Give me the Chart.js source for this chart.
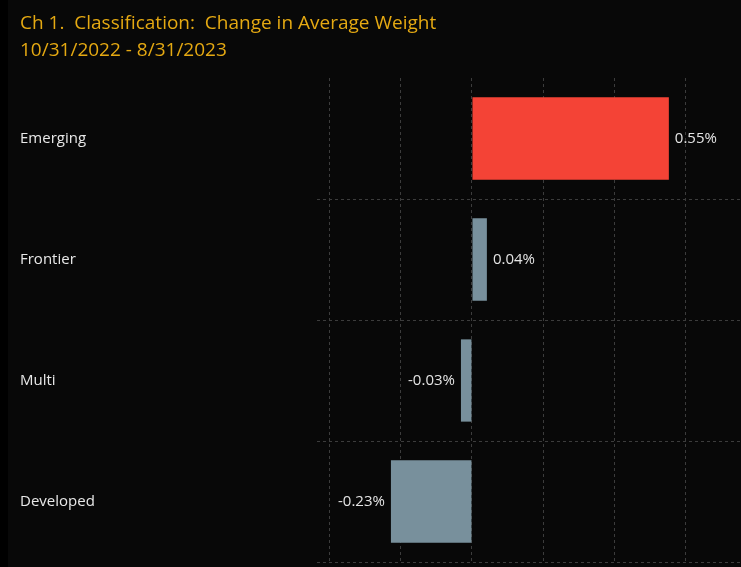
<!DOCTYPE html>
<html>
<head>
<meta charset="utf-8">
<script src="https://cdn.jsdelivr.net/npm/chart.js@4"></script>
<style>
  html, body { margin: 0; padding: 0; }
  body {
    width: 741px;
    height: 567px;
    overflow: hidden;
    background: linear-gradient(to right, #000 8px, #080808 8px);
  }
  #wrap { position: relative; width: 741px; height: 567px; }
</style>
</head>
<body>
<div id="wrap"><canvas id="chart"></canvas></div>
<script>
const categories = ["Emerging", "Frontier", "Multi", "Developed"];
const changeValues = [0.554, 0.042, -0.031, -0.228];
const barColors = ["#f44336", "#78909c", "#78909c", "#78909c"];
const gridTicks = [-0.4, -0.2, 0, 0.2, 0.4, 0.6];
const titleLines = ["Ch 1.  Classification:  Change in Average Weight", "10/31/2022 - 8/31/2023"];

const fontFamily = "'Open Sans', Roboto, sans-serif";
const gridColor = "#3c3c3c";

const valueLabels = {
  id: "valueLabels",
  afterDatasetsDraw(chart) {
    const ctx = chart.ctx;
    const meta = chart.getDatasetMeta(0);
    ctx.save();
    ctx.font = `15px ${fontFamily}`;
    ctx.fillStyle = "#e4e4e4";
    ctx.textBaseline = "middle";
    meta.data.forEach((bar, i) => {
      const v = changeValues[i];
      const text = `${v.toFixed(2)}%`;
      if (v >= 0) {
        ctx.textAlign = "left";
        ctx.fillText(text, bar.x + 6, bar.y);
      } else {
        ctx.textAlign = "right";
        ctx.fillText(text, bar.x - 6, bar.y);
      }
    });
    ctx.restore();
  }
};

new Chart(document.getElementById("chart"), {
  type: "bar",
  data: {
    labels: categories,
    datasets: [{
      data: changeValues,
      backgroundColor: barColors,
      borderWidth: 0,
      categoryPercentage: 1,
      barPercentage: 0.68
    }]
  },
  options: {
    indexAxis: "y",
    responsive: true,
    maintainAspectRatio: false,
    animation: false,
    layout: {
      padding: { left: 20, right: 0, top: 0, bottom: 5 }
    },
    plugins: {
      legend: { display: false },
      tooltip: { enabled: false },
      title: {
        display: true,
        text: titleLines,
        align: "start",
        color: "#e5a912",
        font: { family: fontFamily, size: 19, weight: "normal", lineHeight: "27px" },
        padding: { top: 10, bottom: 14 }
      }
    },
    scales: {
      x: {
        min: -0.436,
        max: 0.757,
        afterBuildTicks: (scale) => {
          scale.ticks = gridTicks.map(v => ({ value: v }));
        },
        afterFit: (scale) => { scale.height = 0; },
        ticks: { display: false },
        border: { display: false, dash: [3, 3] },
        grid: {
          color: gridColor,
          lineWidth: 1,
          drawTicks: false
        }
      },
      y: {
        afterFit: (scale) => {
          scale.width = 297;
          scale.paddingTop = 0;
          scale.paddingBottom = 0;
        },
        ticks: {
          crossAlign: "far",
          color: "#e8e8e8",
          font: { family: fontFamily, size: 15 },
          padding: 0
        },
        border: { display: false, dash: [3, 3] },
        grid: {
          offset: true,
          drawTicks: false,
          lineWidth: 1,
          color: (ctx) => (ctx.index === 0 || ctx.index >= categories.length) ? "rgba(0,0,0,0)" : gridColor
        }
      }
    }
  },
  plugins: [valueLabels]
});
</script>
</body>
</html>
